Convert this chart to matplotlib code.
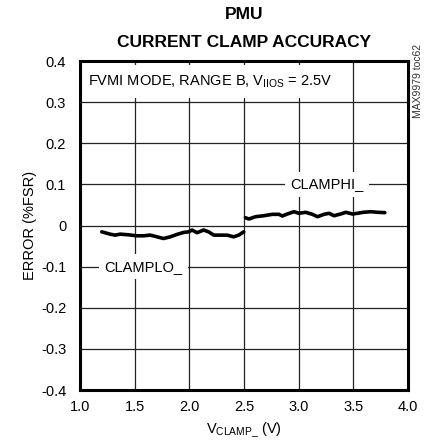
import matplotlib.pyplot as plt
import matplotlib.font_manager as fm

names = {f.name for f in fm.fontManager.ttflist}
narrow = 'Liberation Sans Narrow' if 'Liberation Sans Narrow' in names else 'Liberation Sans'
plt.rcParams['font.family'] = [narrow, 'DejaVu Sans']
plt.rcParams['mathtext.fontset'] = 'custom'
plt.rcParams['mathtext.rm'] = narrow
plt.rcParams['mathtext.it'] = narrow

# CLAMPLO_ trace, VCLAMP_ below 2.5V
lo_v = [1.199, 1.275, 1.321, 1.367, 1.443, 1.520, 1.581, 1.642, 1.704, 1.764, 1.826, 1.887,
        1.948, 1.994, 2.025, 2.071, 2.131, 2.177, 2.223, 2.284, 2.346, 2.406, 2.452, 2.498]
lo_err = [-0.0154, -0.0210, -0.0234, -0.0210, -0.0226, -0.0250, -0.0250, -0.0233, -0.0275,
          -0.0316, -0.0275, -0.0217, -0.0168, -0.0154, -0.0110, -0.0175, -0.0110, -0.0154,
          -0.0234, -0.0234, -0.0234, -0.0275, -0.0234, -0.0154]

# CLAMPHI_ trace, VCLAMP_ above 2.5V
hi_v = [2.514, 2.544, 2.606, 2.682, 2.759, 2.820, 2.851, 2.897, 2.958, 3.003, 3.064, 3.126,
        3.172, 3.233, 3.279, 3.324, 3.385, 3.431, 3.493, 3.538, 3.590, 3.661, 3.722, 3.789]
hi_err = [0.0190, 0.0158, 0.0214, 0.0238, 0.0272, 0.0272, 0.0231, 0.0280, 0.0336, 0.0297,
          0.0321, 0.0272, 0.0214, 0.0272, 0.0297, 0.0238, 0.0280, 0.0321, 0.0280, 0.0297,
          0.0321, 0.0336, 0.0321, 0.0313]

xticks = [1.0, 1.5, 2.0, 2.5, 3.0, 3.5, 4.0]
yticks = [0.4, 0.3, 0.2, 0.1, 0, -0.1, -0.2, -0.3, -0.4]
ytick_labels = ['0.4', '0.3', '0.2', '0.1', '0', '-0.1', '-0.2', '-0.3', '-0.4']

fig = plt.figure(figsize=(4.28, 4.47), dpi=100)
ax = fig.add_axes([0.187, 0.1275, 0.766, 0.736])

ax.plot(lo_v, lo_err, color='black', lw=2.6, solid_capstyle='round', zorder=3)
ax.plot(hi_v, hi_err, color='black', lw=2.6, solid_capstyle='round', zorder=3)

ax.set_xlim(1.0, 4.0)
ax.set_ylim(-0.4, 0.4)
ax.set_xticks(xticks)
ax.set_xticklabels(['%.1f' % v for v in xticks])
ax.set_yticks(yticks)
ax.set_yticklabels(ytick_labels)
ax.tick_params(length=0, labelsize=10.5)
ax.tick_params(axis='x', pad=7)
ax.tick_params(axis='y', pad=10)
ax.grid(True, color='#222222', lw=0.9)
ax.set_axisbelow(True)
for s in ax.spines.values():
    s.set_linewidth(2.2)

ax.set_xlabel(r'V$_{\mathrm{CLAMP\_}}$ (V)', fontsize=10.5, labelpad=5)
ax.set_ylabel('ERROR (%FSR)', fontsize=10.5, labelpad=3)

white = dict(facecolor='white', edgecolor='none', pad=4)
ax.text(1.07, 0.35, r'FVMI MODE, RANGE B, V$_{\mathrm{IIOS}}$ = 2.5V', fontsize=10.5,
        va='center', ha='left', bbox=dict(facecolor='white', edgecolor='none', pad=6), zorder=2)
ax.text(3.257, 0.1, 'CLAMPHI_', fontsize=10.5, va='center', ha='center', bbox=white, zorder=2)
ax.text(1.583, -0.1, 'CLAMPLO_', fontsize=10.5, va='center', ha='center', bbox=white, zorder=2)

fig.text(0.571, 0.968, 'PMU', fontsize=12.5, weight='bold', ha='center', va='center')
fig.text(0.571, 0.905, 'CURRENT CLAMP ACCURACY', fontsize=12.5, weight='bold', ha='center', va='center')
fig.text(0.977, 0.819, 'MAX9979 toc62', fontsize=7.5, rotation=90, ha='center', va='center', color='#333333')

fig.savefig('out.png', dpi=100)
